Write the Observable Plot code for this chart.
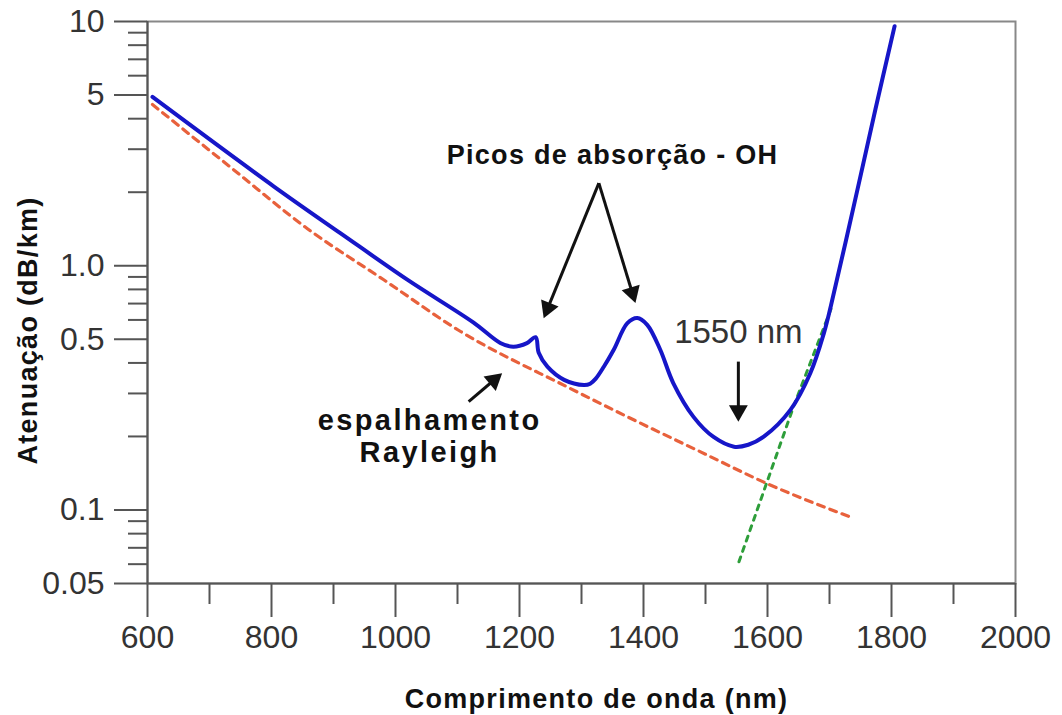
<!DOCTYPE html>
<html><head><meta charset="utf-8">
<script src="https://cdn.jsdelivr.net/npm/d3@7"></script>
<script src="https://cdn.jsdelivr.net/npm/@observablehq/plot@0.6"></script>
<style>
body{margin:0;background:#fff;}
</style>
</head><body><div id="chart"></div>
<script>
// Total attenuation curve (blue)
const totalX = [608, 804, 911, 1019, 1126, 1169, 1190, 1212, 1226, 1231, 1245, 1272, 1304, 1314, 1323, 1336, 1352, 1374, 1390, 1406, 1427, 1448, 1481, 1513, 1546, 1569, 1594, 1637, 1669, 1691, 1702, 1739, 1774, 1805];
const totalY = [4.91, 2.11, 1.36, 0.877, 0.585, 0.483, 0.466, 0.482, 0.51, 0.44, 0.386, 0.341, 0.325, 0.329, 0.345, 0.386, 0.453, 0.582, 0.611, 0.573, 0.453, 0.331, 0.240, 0.199, 0.1816, 0.185, 0.1996, 0.257, 0.363, 0.530, 0.681, 1.75, 4.36, 9.57];
// Rayleigh scattering (red dashed)
const rayleighX = [608, 734, 858, 981, 1105, 1277, 1384, 1492, 1594, 1739];
const rayleighY = [4.57, 2.53, 1.418, 0.876, 0.538, 0.319, 0.234, 0.173, 0.130, 0.0925];
// Infrared absorption (green dotted)
const infraredX = [1554, 1642, 1704];
const infraredY = [0.0614, 0.265, 0.682];

// Axes
const xMajorTicks = [600, 800, 1000, 1200, 1400, 1600, 1800, 2000];
const xMinorTicks = [700, 900, 1100, 1300, 1500, 1700, 1900];
const yMajorTicks = [0.05, 0.1, 0.5, 1, 5, 10];
const yMajorLabels = ["0.05", "0.1", "0.5", "1.0", "5", "10"];
const yMinorTicks = [0.06, 0.07, 0.08, 0.09, 0.2, 0.3, 0.4, 0.6, 0.7, 0.8, 0.9, 2, 3, 4, 6, 7, 8, 9];
const xTitle = "Comprimento de onda (nm)";
const yTitle = "Atenuação (dB/km)";

// Annotations
const ohLabel = {x: 1350, y: 2.82, text: "Picos de absorção - OH"};
const nmLabel = {x: 1553, y: 0.532, text: "1550 nm"};
const rayleighLabels = [
  {x: 1055, y: 0.231, text: "espalhamento"},
  {x: 1055, y: 0.172, text: "Rayleigh"}
];
const arrows = [
  {x1: 1328, y1: 2.18, x2: 1239, y2: 0.61},
  {x1: 1328, y1: 2.18, x2: 1387, y2: 0.703},
  {x1: 1553, y1: 0.405, x2: 1553, y2: 0.230},
  {x1: 1118, y1: 0.278, x2: 1172, y2: 0.363}
];
const headR = 7;

const toPts = (xs, ys) => xs.map((x, i) => ({x, y: ys[i]}));

const layout = {
  width: 1062, height: 715,
  marginLeft: 147, marginRight: 47, marginTop: 21, marginBottom: 132,
  style: {fontFamily: "'Liberation Sans', Arial, sans-serif", background: "#fff", overflow: "visible"},
  x: {type: "linear", domain: [600, 2000]},
  y: {type: "log", domain: [0.05, 10]}
};

function baseMarks() {
  return [
    Plot.frame({stroke: "#888", strokeWidth: 2}),
    Plot.ruleX([600], {stroke: "#555", strokeWidth: 2}),
    Plot.ruleY([0.05], {stroke: "#555", strokeWidth: 2}),
    Plot.axisX(xMinorTicks, {tickSize: 21, tickFormat: () => "", stroke: "#555", strokeWidth: 2, label: null}),
    Plot.axisX(xMajorTicks, {tickSize: 34, tickPadding: 8, fontSize: 32, stroke: "#555", fill: "#333", strokeWidth: 2, label: null, tickFormat: d => String(d)}),
    Plot.axisY(yMinorTicks, {tickSize: 19, tickFormat: () => "", stroke: "#555", strokeWidth: 2, label: null}),
    Plot.axisY(yMajorTicks, {tickSize: 33, tickPadding: 10, fontSize: 32, stroke: "#555", fill: "#333", strokeWidth: 2, label: null,
      tickFormat: d => yMajorLabels[yMajorTicks.indexOf(d)]}),
    Plot.line(toPts(rayleighX, rayleighY), {x: "x", y: "y", stroke: "#e8613c", strokeWidth: 3.2, strokeDasharray: "7,6", curve: "monotone-x"}),
    Plot.line(toPts(infraredX, infraredY), {x: "x", y: "y", stroke: "#2e9e3a", strokeWidth: 3, strokeDasharray: "5,6"}),
    Plot.line(toPts(totalX, totalY), {x: "x", y: "y", stroke: "#1616c8", strokeWidth: 4, curve: "catmull-rom", strokeLinejoin: "round"}),
    Plot.text([ohLabel], {x: "x", y: "y", text: "text", fontSize: 27, fontWeight: "bold", fill: "#111"}),
    Plot.text([nmLabel], {x: "x", y: "y", text: "text", fontSize: 33, fill: "#333"}),
    Plot.text(rayleighLabels, {x: "x", y: "y", text: "text", fontSize: 29, fontWeight: "bold", fill: "#111"}),
    Plot.text([xTitle], {frameAnchor: "bottom", text: d => d, textAnchor: "middle", lineAnchor: "middle", dx: 15, dy: 116, fontSize: 27, fontWeight: "bold", fill: "#111"}),
    Plot.text([yTitle], {frameAnchor: "left", text: d => d, textAnchor: "middle", lineAnchor: "middle", rotate: -90, dx: -119, dy: 28, fontSize: 27, fontWeight: "bold", fill: "#111"})
  ];
}

// First pass: obtain the plot's scales to orient the filled arrow heads
const probe = Plot.plot({...layout, marks: baseMarks()});
const sx = probe.scale("x"), sy = probe.scale("y");
const heads = arrows.map(a => {
  const X1 = sx.apply(a.x1), Y1 = sy.apply(a.y1), X2 = sx.apply(a.x2), Y2 = sy.apply(a.y2);
  const len = Math.hypot(X2 - X1, Y2 - Y1);
  const ux = (X2 - X1) / len, uy = (Y2 - Y1) / len;
  const back = 1.555 * headR;
  const cx = X2 - ux * back, cy = Y2 - uy * back;
  return {
    x1: a.x1, y1: a.y1,
    cx: sx.invert(cx), cy: sy.invert(cy),
    angle: Math.atan2(ux, -uy) * 180 / Math.PI
  };
});

const chart = Plot.plot({
  ...layout,
  marks: [
    ...baseMarks(),
    Plot.link(heads, {x1: "x1", y1: "y1", x2: "cx", y2: "cy", stroke: "#111", strokeWidth: 3}),
    Plot.dot(heads, {x: "cx", y: "cy", symbol: "triangle", r: headR, fill: "#111", stroke: "none", rotate: "angle"})
  ]
});
document.getElementById("chart").appendChild(chart);

// letter spacing to match the wide bold lettering of the reference
const spacing = new Map([
  [ohLabel.text, "1.3px"],
  ["espalhamento", "2.4px"],
  ["Rayleigh", "2.4px"],
  [xTitle, "1.3px"],
  [yTitle, "1.3px"]
]);
d3.select(chart).selectAll("text").each(function() {
  const s = spacing.get(this.textContent);
  if (s) this.style.letterSpacing = s;
});
</script>
</body></html>
